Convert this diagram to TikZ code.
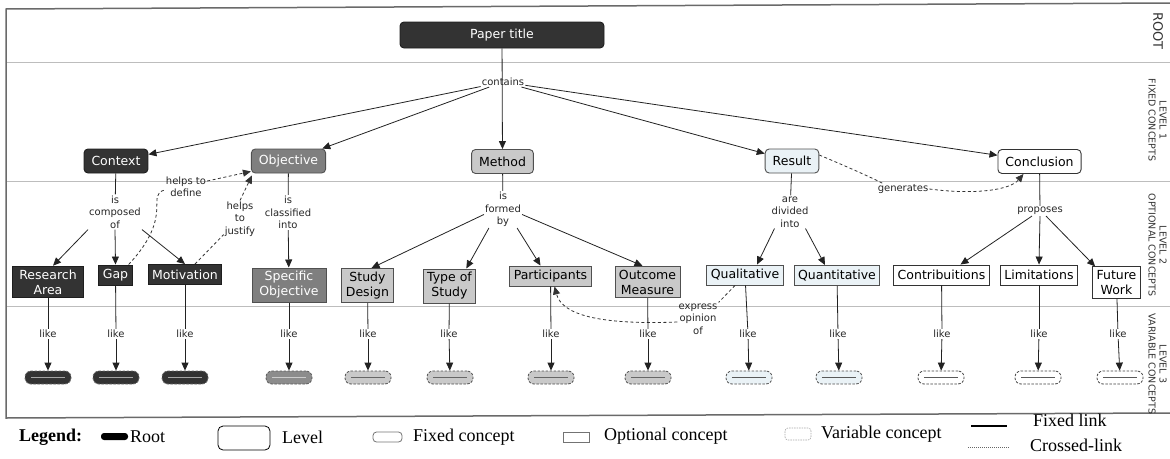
\documentclass[tikz,border=0pt]{standalone}
\usepackage{fontspec}
\setmainfont{DejaVu Sans}
\newfontfamily\legfont{Liberation Serif}
\usetikzlibrary{arrows.meta}
\definecolor{dkfill}{HTML}{333333}
\definecolor{dkdraw}{HTML}{1E1E1E}
\definecolor{grfill}{HTML}{7F7F7F}
\definecolor{grvar}{HTML}{8C8C8C}
\definecolor{lgfill}{HTML}{C9C9C9}
\definecolor{lbfill}{HTML}{EAF2F6}
\definecolor{bd}{HTML}{505050}
\definecolor{framec}{HTML}{6A6A6A}
\definecolor{sepc}{HTML}{BDBDBD}
\definecolor{linec}{HTML}{222222}
\begin{document}
\begin{tikzpicture}[x=1pt,y=-1pt,
  nodefont/.style={font=\fontsize{12.5}{15}\selectfont},
  lone/.style={nodefont, rounded corners=4pt, inner xsep=7.5pt, inner ysep=3pt, minimum height=24pt, line width=0.9pt},
  ltwo/.style={nodefont, align=center, inner xsep=4pt, inner ysep=3.5pt, minimum height=20pt, line width=0.9pt},
  lbl/.style={font=\fontsize{10}{12.5}\selectfont, align=center, inner sep=1pt, text=black!85},
  fixed/.style={draw=linec, line width=0.8pt},
  arr/.style={-{Triangle[length=8pt,width=7pt]}},
  cross/.style={draw=black!80, line width=0.8pt, dash pattern=on 3pt off 2.5pt},
  varnode/.style={rounded corners=6pt, minimum width=46pt, minimum height=13pt, inner sep=0pt, line width=0.8pt, dash pattern=on 2.5pt off 1.5pt},
  lev/.style={rotate=-90, align=center, font=\fontsize{9.5}{11}\selectfont, text=black!80, inner sep=0pt},
  leg/.style={font=\legfont\fontsize{18}{20}\selectfont, anchor=west, inner sep=0pt}
]
\useasboundingbox (0,0) rectangle (1170,458);
% frame and level separators
\draw[sepc, line width=1pt] (6,62) -- (1170,62);
\draw[sepc, line width=1pt] (6,181) -- (1170,181);
\draw[sepc, line width=1pt] (6,306) -- (1170,306);
\draw[framec, line width=1.5pt] (1170,3) -- (6,9) -- (6,418) -- (1170,413);

% level captions
\node[lev, font=\fontsize{13}{15}\selectfont] (lroot) at (1158,31) {ROOT};
\node[lev] (lone) at (1157.5,120) {LEVEL 1\\FIXED CONCEPTS};
\node[lev] (ltwo) at (1157.5,245) {LEVEL 2\\OPTIONAL CONCEPTS};
\node[lev] (lthree) at (1157.5,364) {LEVEL 3\\VARIABLE CONCEPTS};

% root and level 1
\node[lone, fill=dkfill, draw=dkdraw, text=white, minimum width=204pt, minimum height=26pt] (title) at (502,35) {Paper title};
\node[lbl] (contains) at (503,82) {contains};
\node[lone, fill=dkfill, draw=dkdraw, text=white] (context) at (116,161) {Context};
\node[lone, fill=grfill, draw=bd, text=white] (objective) at (288.5,161) {Objective};
\node[lone, fill=lgfill, draw=bd] (method) at (502.5,161.5) {Method};
\node[lone, fill=lbfill, draw=bd] (result) at (792,161) {Result};
\node[lone, fill=white, draw=black!80] (conclusion) at (1039.5,161.5) {Conclusion};

\draw[fixed,arr] (title) -- (method);
\draw[fixed,arr] (contains) -- (context);
\draw[fixed,arr] (contains) -- (objective);
\draw[fixed,arr] (contains) -- (result);
\draw[fixed,arr] (contains) -- (conclusion);

% linking phrases level 1 -> 2
\node[lbl] (comp) at (115,212) {is\\composed\\of};
\node[lbl] (cls) at (288,212.5) {is\\classified\\into};
\node[lbl] (form) at (503,209.5) {is\\formed\\by};
\node[lbl] (div) at (790,212) {are\\divided\\into};
\node[lbl] (prop) at (1040,211) {proposes};

% level 2 nodes
\node[ltwo, fill=dkfill, draw=dkdraw, text=white, minimum width=71pt] (ra) at (48,282) {Research\\Area};
\node[ltwo, fill=dkfill, draw=dkdraw, text=white] (gap) at (115.5,275) {Gap};
\node[ltwo, fill=dkfill, draw=dkdraw, text=white] (mot) at (185,274.5) {Motivation};
\node[ltwo, fill=grfill, draw=bd, text=white, minimum width=74pt] (so) at (289,285) {Specific\\Objective};
\node[ltwo, fill=lgfill, draw=bd] (sd) at (367.5,285.5) {Study\\Design};
\node[ltwo, fill=lgfill, draw=bd] (ts) at (449.5,286) {Type of\\Study};
\node[ltwo, fill=lgfill, draw=bd] (par) at (550.5,276) {Participants};
\node[ltwo, fill=lgfill, draw=bd, minimum width=65pt] (om) at (647.5,282) {Outcome\\Measure};
\node[ltwo, fill=lbfill, draw=bd] (qual) at (745,275) {Qualitative};
\node[ltwo, fill=lbfill, draw=bd] (quant) at (837,275.5) {Quantitative};
\node[ltwo, fill=white, draw=black!80] (contr) at (941.5,275) {Contribuitions};
\node[ltwo, fill=white, draw=black!80] (lim) at (1039,275) {Limitations};
\node[ltwo, fill=white, draw=black!80] (fw) at (1116.5,282.5) {Future\\Work};

% fixed links level 1 -> 2
\draw[fixed] (context) -- (comp);
\draw[fixed,arr] (comp.south west) -- ([xshift=5pt]ra.north);
\draw[fixed,arr] (comp.south) -- (gap.north);
\draw[fixed,arr] (comp.south east) -- (mot.north);

\draw[fixed] (objective) -- (cls);
\draw[fixed,arr] (cls) -- (so);

\draw[fixed] (method) -- (form);
\draw[fixed,arr] ([yshift=-5pt]form.west) -- ([xshift=4pt]sd.north);
\draw[fixed,arr] ([xshift=5pt]form.south west) -- ([xshift=-10pt]ts.north east);
\draw[fixed,arr] ([xshift=-5pt]form.south east) -- ([xshift=-10pt]par.north);
\draw[fixed,arr] ([yshift=-5pt]form.east) -- ([xshift=-5pt]om.north);

\draw[fixed] (result) -- (div);
\draw[fixed,arr] ([xshift=4pt]div.south west) -- ([xshift=12pt]qual.north);
\draw[fixed,arr] ([xshift=-4pt]div.south east) -- ([xshift=-12pt]quant.north);

\draw[fixed] (conclusion) -- (prop);
\draw[fixed,arr] ([xshift=-8pt]prop.south) -- ([xshift=19pt]contr.north);
\draw[fixed,arr] (prop.south) -- (lim.north);
\draw[fixed,arr] ([xshift=6pt]prop.south) -- ([xshift=3pt]fw.north west);

% crossed links
\node[lbl] (hd) at (186,187) {helps to\\define};
\node[lbl] (hj) at (240,219) {helps\\to\\justify};
\node[lbl] (gen) at (903,189) {generates};
\node[lbl] (exp) at (698,319) {express\\opinion\\of};

\draw[cross] ([xshift=-4pt]gap.north east) .. controls (175,215) and (145,195) .. ([yshift=-3pt]hd.west);
\draw[cross,arr] ([yshift=6pt]hd.east) -- ([yshift=2pt]objective.south west);
\draw[cross] ([xshift=10pt]mot.north) -- ([yshift=3pt]hj.south west);
\draw[cross,arr] (hj.north) -- ([xshift=1pt,yshift=-2pt]objective.south west);
\draw[cross] ([yshift=6pt]result.east) .. controls (850,168) and (868,176) .. ([xshift=6pt]gen.north west);
\draw[cross,arr] (gen.east) .. controls (975,195) and (1010,190) .. ([xshift=-16pt]conclusion.south);
\draw[cross] ([xshift=-10pt]qual.south) -- (exp.north east);
\draw[cross,arr] ([yshift=-3pt]exp.west) .. controls (600,325) and (562,315) .. ([xshift=4pt]par.south);

% level 3
\foreach \n/\lx/\vx/\fc/\dc/\rc in {ra/48/48/dkfill/black!60/black!35, gap/116/116/dkfill/black!60/black!35, mot/185/185/dkfill/black!60/black!35, so/289/289/grvar/black!65/black!20, sd/368/368/lgfill/black!70/black!60, ts/449/450/lgfill/black!70/black!60, par/551/551/lgfill/black!70/black!60, om/648/648/lgfill/black!70/black!60, qual/748/749/lbfill/black!70/black!65, quant/838/839/lbfill/black!70/black!65, contr/942/941/white/black!75/black!65, lim/1039/1038/white/black!75/black!65, fw/1118/1120/white/black!75/black!65}{
  \node[lbl] (like-\n) at (\lx,334) {like};
  \node[varnode, fill=\fc, draw=\dc, text=\rc] (var-\n) at (\vx,377.5) {\rule{34pt}{1.2pt}};
  \draw[fixed] (\n) -- (like-\n);
  \draw[fixed,arr] (like-\n) -- (var-\n);
}

% legend
\node[leg, font=\legfont\bfseries\fontsize{18}{20}\selectfont] (legtitle) at (19,437) {Legend:};
\node[fill=black, rounded corners=3pt, minimum width=27pt, minimum height=7pt, inner sep=0pt] (swroot) at (114.5,436.5) {};
\node[leg] (txroot) at (130,437) {Root};
\node[draw=black, line width=0.8pt, rounded corners=5pt, minimum width=52pt, minimum height=24pt, inner sep=0pt] (swlevel) at (244,438) {};
\node[leg] (txlevel) at (282,437) {Level};
\node[draw=black!55, line width=0.8pt, rounded corners=3.5pt, minimum width=29pt, minimum height=10pt, inner sep=0pt] (swfixed) at (387.5,437) {};
\node[leg] (txfixed) at (413,437) {Fixed concept};
\node[draw=black!55, line width=0.8pt, minimum width=26pt, minimum height=10pt, inner sep=0pt] (swopt) at (576,437) {};
\node[leg] (txopt) at (604,436) {Optional concept};
\node[draw=black!35, line width=0.6pt, dash pattern=on 1.5pt off 1pt, rounded corners=3pt, minimum width=26pt, minimum height=12pt, inner sep=0pt] (swvar) at (798,434) {};
\node[leg] (txvar) at (821,434) {Variable concept};
\coordinate (fla) at (971,426);
\coordinate (flb) at (1007,426);
\draw[black, line width=1.2pt] (fla) -- (flb);
\node[leg] (txfl) at (1033,420) {Fixed link};
\coordinate (cla) at (968,447);
\coordinate (clb) at (1009,447);
\draw[black!60, line width=0.6pt, dash pattern=on 1pt off 1pt] (cla) -- (clb);
\node[leg] (txcl) at (1030,445) {Crossed-link};
\end{tikzpicture}
\end{document}
